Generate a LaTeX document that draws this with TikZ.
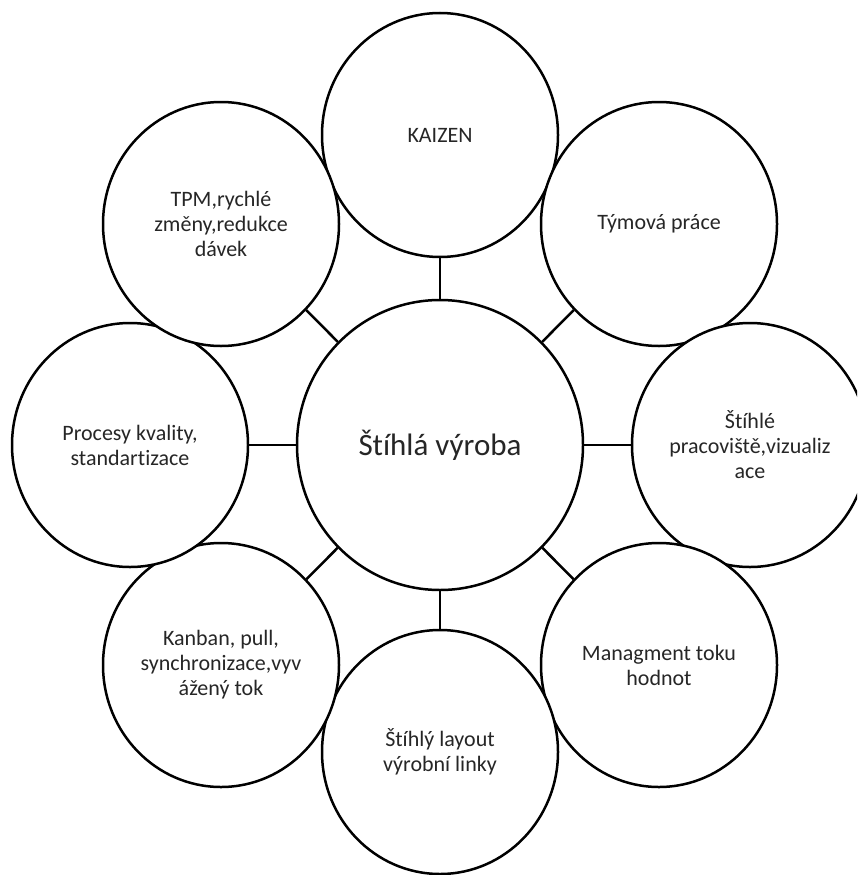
\documentclass[tikz,border=0pt]{standalone}
\usepackage{fontspec}
\setmainfont{Carlito}[Ligatures=NoCommon]
\usetikzlibrary{shapes.geometric}
\begin{document}
\begin{tikzpicture}[x=1pt,y=-1pt,
  bubble/.style={ellipse, draw=black, line width=2.5pt, fill=white,
    minimum width=236pt, minimum height=244pt, inner sep=0pt,
    align=center, text=black!85,
    font=\fontsize{22}{25}\selectfont},
  hub/.style={bubble, minimum width=286pt, minimum height=290pt,
    font=\fontsize{31}{36}\selectfont},
  link/.style={draw=black, line width=2.5pt}]
\clip (0,0) rectangle (857,875);
\fill[white] (0,0) rectangle (857,875);

% central topic
\node[hub] (c) at (440,445) {Štíhlá výroba};

% surrounding topics, clockwise from the top
\node[bubble] (kaizen) at (440,135) {KAIZEN};
\node[bubble] (tym)    at (659,224) {Týmová práce};
\node[bubble] (prac)   at (750,445) {Štíhlé\\pracoviště,vizualiz\\ace};
\node[bubble] (mgmt)   at (659,665) {Managment toku\\hodnot};
\node[bubble] (layout) at (440,752) {Štíhlý layout\\výrobní linky};
\node[bubble] (kanban) at (221,665) {Kanban, pull,\\synchronizace,vyv\\ážený tok};
\node[bubble] (kval)   at (130,445) {Procesy kvality,\\standartizace};
\node[bubble] (tpm)    at (221,224) {TPM,rychlé\\změny,redukce\\dávek};

% spokes
\foreach \n in {kaizen,tym,prac,mgmt,layout,kanban,kval,tpm}
  \draw[link] (c) -- (\n);
\end{tikzpicture}
\end{document}
